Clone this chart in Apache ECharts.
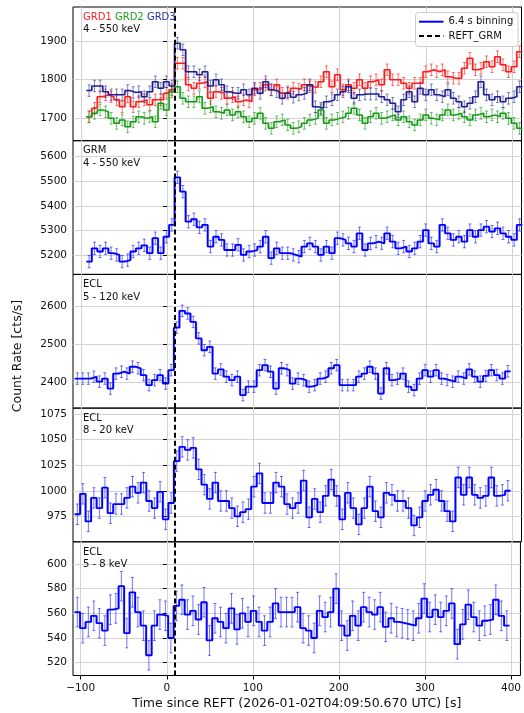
<!DOCTYPE html>
<html>
<head>
<meta charset="utf-8">
<script src="https://cdn.jsdelivr.net/npm/echarts@6/dist/echarts.min.js"></script>
<style>
  html, body { margin: 0; padding: 0; background: #fff; }
  #chart { width: 524px; height: 713px; }
</style>
</head>
<body>
<div id="chart"></div>
<script>
// binning and reference time
var binWidth = 6.4;
var reftGrm = 9;
var grdStart = -93.6;   // first bin edge of GRD / GRM light curves
var eclStart = -107.2;  // first bin edge of ECL light curves

// axis ranges and ticks
var timeRange = [-109, 411];
var timeTicks = [-100, 0, 100, 200, 300, 400];
var grdRange = [1641, 1988], grdTicks = [1700, 1800, 1900];
var grmRange = [5122, 5665], grmTicks = [5200, 5300, 5400, 5500, 5600];
var eclARange = [2333, 2682], eclATicks = [2400, 2500, 2600];
var eclBRange = [950, 1081], eclBTicks = [975, 1000, 1025, 1050, 1075];
var eclCRange = [509.6, 618], eclCTicks = [520, 540, 560, 580, 600];

// count rates [cts/s]
var grd1 = [1703, 1725, 1755, 1760, 1755, 1747, 1729, 1755, 1729, 1742, 1747, 1734, 1747, 1747, 1764, 1773,
  1842, 1842, 1786, 1777, 1790, 1794, 1751, 1768, 1764, 1751, 1755, 1742, 1747, 1742, 1773, 1777, 1786, 1773,
  1786, 1764, 1768, 1777, 1775, 1786, 1781, 1780, 1794, 1820, 1781, 1812, 1773, 1786, 1777, 1799, 1777, 1794,
  1799, 1786, 1825, 1799, 1799, 1790, 1777, 1790, 1790, 1820, 1825, 1820, 1825, 1807, 1803, 1803, 1829, 1855,
  1825, 1829, 1846, 1833, 1859, 1838, 1820, 1833, 1872];
var grd2 = [1703, 1712, 1721, 1716, 1699, 1686, 1695, 1677, 1690, 1703, 1699, 1703, 1690, 1738, 1721, 1768,
  1781, 1751, 1742, 1742, 1755, 1725, 1729, 1716, 1712, 1721, 1708, 1716, 1703, 1690, 1699, 1712, 1686, 1673,
  1690, 1695, 1682, 1673, 1677, 1686, 1695, 1699, 1721, 1686, 1695, 1699, 1703, 1712, 1725, 1708, 1686, 1703,
  1712, 1699, 1703, 1708, 1695, 1703, 1690, 1682, 1695, 1708, 1699, 1695, 1708, 1721, 1708, 1712, 1703, 1695,
  1708, 1712, 1703, 1708, 1703, 1712, 1699, 1686, 1673];
var grd3 = [1771, 1783, 1783, 1768, 1760, 1760, 1760, 1771, 1766, 1768, 1755, 1768, 1794, 1777, 1794, 1783,
  1894, 1877, 1820, 1820, 1812, 1820, 1783, 1799, 1786, 1768, 1764, 1764, 1773, 1760, 1777, 1764, 1794, 1773,
  1768, 1751, 1764, 1754, 1760, 1764, 1786, 1729, 1725, 1742, 1747, 1760, 1768, 1781, 1751, 1760, 1762, 1762,
  1762, 1755, 1747, 1738, 1716, 1747, 1768, 1742, 1777, 1760, 1773, 1760, 1755, 1773, 1751, 1742, 1729, 1738,
  1755, 1794, 1760, 1747, 1755, 1742, 1751, 1755, 1781];
var grm = [5174, 5228, 5215, 5228, 5208, 5201, 5174, 5180, 5215, 5228, 5240, 5208, 5269, 5208, 5275, 5323,
  5516, 5458, 5336, 5346, 5313, 5323, 5235, 5275, 5262, 5221, 5221, 5242, 5201, 5215, 5221, 5235, 5275, 5188,
  5228, 5208, 5208, 5201, 5194, 5235, 5248, 5235, 5201, 5235, 5208, 5269, 5262, 5248, 5235, 5289, 5221, 5248,
  5255, 5248, 5289, 5255, 5228, 5235, 5215, 5228, 5255, 5302, 5248, 5235, 5323, 5289, 5262, 5275, 5255, 5302,
  5275, 5302, 5316, 5296, 5309, 5289, 5275, 5262, 5323];
var ecl5to120 = [2410, 2410, 2410, 2415, 2402, 2410, 2384, 2423, 2428, 2423, 2441, 2437, 2419, 2393, 2406, 2419,
  2397, 2432, 2543, 2587, 2580, 2558, 2515, 2484, 2493, 2423, 2434, 2415, 2406, 2415, 2367, 2389, 2389, 2432,
  2445, 2428, 2384, 2437, 2432, 2397, 2410, 2406, 2389, 2393, 2410, 2415, 2437, 2445, 2393, 2393, 2393, 2415,
  2423, 2441, 2423, 2371, 2437, 2406, 2410, 2423, 2389, 2380, 2410, 2432, 2415, 2432, 2410, 2406, 2402, 2415,
  2410, 2434, 2415, 2402, 2417, 2432, 2419, 2410, 2429];
var ecl8to20 = [977, 997, 970, 993, 983, 1003, 978, 987, 987, 993, 1004, 998, 1008, 990, 983, 999,
  972, 988, 1029, 1043, 1040, 1042, 1021, 1006, 992, 1008, 990, 990, 983, 975, 979, 982, 1004, 1017,
  988, 988, 1008, 1004, 987, 983, 988, 1010, 974, 992, 979, 995, 1011, 995, 972, 998, 983, 967,
  983, 1004, 980, 974, 998, 996, 990, 990, 983, 966, 974, 990, 996, 1001, 990, 980, 970, 1013,
  996, 1013, 996, 993, 995, 1013, 995, 996, 1000];
var ecl5to8 = [561, 548, 553, 558, 552, 546, 563, 564, 582, 544, 577, 561, 550, 526, 550, 559,
  558, 540, 566, 571, 559, 562, 555, 569, 538, 556, 553, 548, 564, 547, 560, 553, 562, 553,
  546, 553, 568, 561, 561, 561, 565, 548, 546, 540, 562, 557, 561, 580, 550, 542, 558, 550,
  565, 561, 559, 565, 549, 556, 553, 552, 551, 550, 556, 572, 557, 563, 557, 562, 568, 535,
  551, 567, 557, 550, 554, 555, 571, 558, 550];

// one-sigma error bar half lengths
var grdErr = 15, grmErr = 25, eclAErr = 15, eclBErr = 10, eclCErr = 12;

var font = 'DejaVu Sans';
var tops = [7, 140.7, 274.4, 408.1, 541.8];
var panelH = 133.7;

function minus(v) { return String(v).replace('-', '\u2212'); }

function stepSeries(idx, start, vals, color, width, withLine) {
  var data = vals.map(function (v, i) { return [start + i * binWidth, v]; });
  data.push([start + vals.length * binWidth, vals[vals.length - 1]]);
  var s = {
    type: 'line', step: 'end', xAxisIndex: idx, yAxisIndex: idx, data: data,
    symbol: 'none', showSymbol: false, z: 3, silent: true,
    lineStyle: { color: color, width: width }
  };
  if (withLine) {
    s.markLine = {
      silent: true, symbol: 'none', label: { show: false }, animation: false,
      lineStyle: { color: '#000', type: [5, 3], width: 2 },
      data: [{ xAxis: reftGrm }]
    };
  }
  return s;
}

function errSeries(idx, start, vals, err, color, fill) {
  var data = vals.map(function (v, i) {
    return [start + (i + 0.5) * binWidth, v, err, i > 0 ? vals[i - 1] : v];
  });
  return {
    type: 'custom', xAxisIndex: idx, yAxisIndex: idx, data: data, z: 2, silent: true, clip: true,
    encode: { x: 0, y: 1 },
    renderItem: function (params, api) {
      var x = api.value(0), v = api.value(1), e = api.value(2), prev = api.value(3);
      var top = api.coord([x, v + e]), bot = api.coord([x, v - e]);
      var kids = [
        { type: 'line', shape: { x1: top[0], y1: top[1], x2: bot[0], y2: bot[1] }, style: { stroke: color, lineWidth: 1 } },
        { type: 'line', shape: { x1: top[0] - 1.5, y1: top[1], x2: top[0] + 1.5, y2: top[1] }, style: { stroke: color, lineWidth: 1 } },
        { type: 'line', shape: { x1: bot[0] - 1.5, y1: bot[1], x2: bot[0] + 1.5, y2: bot[1] }, style: { stroke: color, lineWidth: 1 } }
      ];
      var a = api.coord([x - binWidth * 0.75, prev]);
      var b = api.coord([x - binWidth * 0.25, v]);
      kids.push({ type: 'rect', shape: { x: a[0], y: Math.min(a[1], b[1]), width: b[0] - a[0], height: Math.abs(a[1] - b[1]) },
        style: { fill: fill } });
      return { type: 'group', children: kids };
    }
  };
}

var yRanges = [grdRange, grmRange, eclARange, eclBRange, eclCRange];
var yTicks = [grdTicks, grmTicks, eclATicks, eclBTicks, eclCTicks];
var splits = [3, 5, 3, 5, 5];

var grids = [], xAxes = [], yAxes = [];
yRanges.forEach(function (r, i) {
  var last = i === yRanges.length - 1;
  grids.push({ left: 73, right: 2.5, top: tops[i], height: panelH, show: true,
    borderColor: '#000', borderWidth: 1, backgroundColor: 'transparent' });
  xAxes.push({
    type: 'value', gridIndex: i, min: timeRange[0], max: timeRange[1], splitNumber: 5,
    axisLine: { show: false },
    axisTick: { show: last, customValues: timeTicks, length: 4, lineStyle: { color: '#000' } },
    axisLabel: { show: last, customValues: timeTicks, formatter: minus, showMinLabel: true, showMaxLabel: true,
      fontFamily: font, fontSize: 10.5, color: '#111', margin: 7 },
    splitLine: { show: true, lineStyle: { color: '#d3d3d3', width: 1 } },
    name: last ? 'Time since REFT (2026-01-02T04:09:50.670 UTC) [s]' : '',
    nameLocation: 'middle', nameGap: 22,
    nameTextStyle: { fontFamily: font, fontSize: 12.5, color: '#111' }
  });
  var y = {
    type: 'value', gridIndex: i, min: r[0], max: r[1],
    axisLine: { show: false },
    axisTick: { show: true, customValues: yTicks[i], length: 4, lineStyle: { color: '#000' } },
    axisLabel: { customValues: yTicks[i], formatter: minus, showMinLabel: true, showMaxLabel: true,
      fontFamily: font, fontSize: 10.5, color: '#111', margin: 6 },
    splitLine: { show: true, lineStyle: { color: '#d3d3d3', width: 1 } }
  };
  if (i === 3) y.interval = 25; else y.splitNumber = splits[i];
  yAxes.push(y);
});

var series = [
  errSeries(0, grdStart, grd1, grdErr, 'rgba(255,0,0,0.55)', 'rgba(255,0,0,0.22)'),
  stepSeries(0, grdStart, grd1, '#ff1a1a', 1.5, false),
  errSeries(0, grdStart, grd2, grdErr, 'rgba(0,140,0,0.55)', 'rgba(0,140,0,0.22)'),
  stepSeries(0, grdStart, grd2, '#139a13', 1.5, false),
  errSeries(0, grdStart, grd3, grdErr, 'rgba(30,30,150,0.55)', 'rgba(30,30,150,0.22)'),
  stepSeries(0, grdStart, grd3, '#1f1f94', 1.5, true),
  errSeries(1, grdStart, grm, grmErr, 'rgba(0,0,255,0.55)', 'rgba(0,0,255,0.22)'),
  stepSeries(1, grdStart, grm, '#0000ff', 1.8, true),
  errSeries(2, eclStart, ecl5to120, eclAErr, 'rgba(0,0,255,0.55)', 'rgba(0,0,255,0.22)'),
  stepSeries(2, eclStart, ecl5to120, '#0000ff', 1.8, true),
  errSeries(3, eclStart, ecl8to20, eclBErr, 'rgba(0,0,255,0.55)', 'rgba(0,0,255,0.22)'),
  stepSeries(3, eclStart, ecl8to20, '#0000ff', 1.8, true),
  errSeries(4, eclStart, ecl5to8, eclCErr, 'rgba(0,0,255,0.55)', 'rgba(0,0,255,0.22)'),
  stepSeries(4, eclStart, ecl5to8, '#0000ff', 1.8, true)
];

var lbl = function (x, y, text) {
  return { type: 'text', x: x, y: y, z: 10, style: { text: text, fontFamily: font, fontSize: 10, fill: '#111', verticalAlign: 'middle' } };
};

var graphics = [
  { type: 'text', x: 83, y: 17, z: 10, style: {
      text: '{r|GRD1} {g|GRD2} {b|GRD3}', fontFamily: font, fontSize: 10, verticalAlign: 'middle',
      rich: { r: { fill: '#ff2020', fontFamily: font, fontSize: 10 }, g: { fill: '#20a020', fontFamily: font, fontSize: 10 },
              b: { fill: '#2a2aa0', fontFamily: font, fontSize: 10 } } } },
  lbl(83, 29, '4 - 550 keV'),
  lbl(83, 150.5, 'GRM'), lbl(83, 163, '4 - 550 keV'),
  lbl(83, 284.5, 'ECL'), lbl(83, 297, '5 - 120 keV'),
  lbl(83, 418.3, 'ECL'), lbl(83, 430.5, '8 - 20 keV'),
  lbl(83, 552, 'ECL'), lbl(83, 564, '5 - 8 keV'),
  { type: 'text', x: 18, y: 356, rotation: Math.PI / 2, z: 10,
    style: { text: 'Count Rate [cts/s]', fontFamily: font, fontSize: 12.5, fill: '#111', align: 'center', verticalAlign: 'middle' } },
  // legend
  { type: 'rect', z: 10, shape: { x: 415.5, y: 12.5, width: 102.5, height: 34, r: 3 },
    style: { fill: 'rgba(255,255,255,0.85)', stroke: '#cccccc', lineWidth: 1 } },
  { type: 'line', z: 11, shape: { x1: 419, y1: 21.7, x2: 443.5, y2: 21.7 }, style: { stroke: '#0000ff', lineWidth: 2 } },
  { type: 'line', z: 11, shape: { x1: 419, y1: 36, x2: 443.5, y2: 36 }, style: { stroke: '#000', lineWidth: 2, lineDash: [5, 3] } },
  { type: 'text', x: 448.5, y: 21.7, z: 11, style: { text: '6.4 s binning', fontFamily: font, fontSize: 10, fill: '#111', verticalAlign: 'middle' } },
  { type: 'text', x: 448.5, y: 36, z: 11, style: { text: 'REFT_GRM', fontFamily: font, fontSize: 10, fill: '#111', verticalAlign: 'middle' } }
];

var chart = echarts.init(document.getElementById('chart'));
chart.setOption({
  animation: false,
  backgroundColor: '#fff',
  textStyle: { fontFamily: font },
  grid: grids,
  xAxis: xAxes,
  yAxis: yAxes,
  series: series,
  graphic: graphics
});
</script>
</body>
</html>
